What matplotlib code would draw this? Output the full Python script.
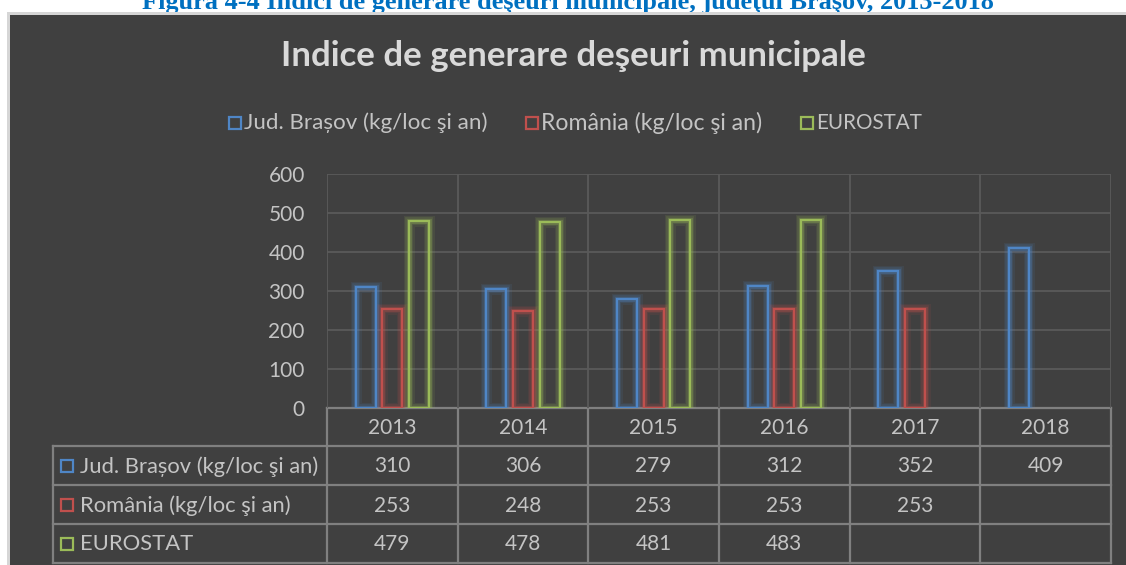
import matplotlib
matplotlib.use('Agg')
import matplotlib.pyplot as plt
import numpy as np
from matplotlib.patches import Rectangle

# ---------------- data ----------------
years = ['2013', '2014', '2015', '2016', '2017', '2018']
brasov = [310, 306, 279, 312, 352, 409]
romania = [253, 248, 253, 253, 253, None]
eurostat = [479, 478, 481, 483, None, None]
series_names = ['Jud. Brașov (kg/loc şi an)', 'România (kg/loc şi an)', 'EUROSTAT']
title = 'Indice de generare deşeuri municipale'
caption = 'Figura 4-4 Indici de generare deşeuri municipale, judeţul Braşov, 2013-2018'
y_ticks = [0, 100, 200, 300, 400, 500, 600]

# ---------------- style ----------------
colors = ['#4f86c6', '#c0504d', '#9bbb59']
BG = '#404040'
TXT = '#c4c4c4'
GRID = '#5a5a5a'
TLINE = '#808080'
FONT = ['Lato', 'DejaVu Sans']
plt.rcParams['font.family'] = FONT

W, H = 1126, 565
fig = plt.figure(figsize=(W / 100, H / 100), dpi=100)
fig.patch.set_facecolor('white')
bg = fig.add_axes([0, 0, 1, 1])
bg.set_xlim(0, W)
bg.set_ylim(H, 0)
bg.axis('off')

renderer = fig.canvas.get_renderer()


def fit(t, target_w):
    bb = t.get_window_extent(renderer)
    t.set_fontsize(t.get_fontsize() * target_w / bb.width)
    return t


# caption (partially cut off at top, as in the reference)
cap = bg.text(568, 9, caption, ha='center', va='baseline', color='#0070c0',
              family=['Liberation Serif'], weight='bold', fontsize=16)
fit(cap, 853)
bg.add_patch(Rectangle((7, 12), W, H, color='#d6d6d6', lw=0, zorder=3))
bg.add_patch(Rectangle((10, 15), W, H, color=BG, lw=0, zorder=3))

# title
tt = bg.text(573, 66, title, ha='center', va='baseline', color='#d9d9d9',
             weight='bold', fontsize=20, zorder=5)
fit(tt, 586)

# top legend
leg_sq = [229, 526, 801]
leg_end = [486, 761, 922]
for i, name in enumerate(series_names):
    x0 = leg_sq[i]
    bg.add_patch(Rectangle((x0, 117), 12, 12, fill=False, ec=colors[i], lw=1.6, zorder=5))
    t = bg.text(x0 + 15, 123, name, ha='left', va='center', color=TXT, fontsize=13, zorder=5)
    fit(t, leg_end[i] - (x0 + 15))

# ---------------- plot axes ----------------
L, R, T, B = 327, 1111, 174, 408
ax = fig.add_axes([L / W, 1 - B / H, (R - L) / W, (B - T) / H])
ax.set_facecolor('none')
ax.set_zorder(4)
ax.set_xlim(-0.5, len(years) - 0.5)
ax.set_ylim(0, 600)
ax.set_yticks(y_ticks)
ax.set_yticklabels([str(v) for v in y_ticks], color=TXT, fontsize=15)
ax.tick_params(axis='y', length=0, pad=16)
ax.set_xticks([])
for v in y_ticks[1:]:
    ax.axhline(v, color=GRID, lw=1.3, zorder=1)
for k in range(len(years) + 1):
    ax.axvline(k - 0.5, color=GRID, lw=1.3, zorder=1)
for s in ax.spines.values():
    s.set_visible(False)

x = np.arange(len(years))
bw = 0.153
offs = [-0.203, 0.0, 0.203]
for i, vals in enumerate([brasov, romania, eurostat]):
    v = np.array([np.nan if a is None else a for a in vals], dtype=float)
    for lw, al in [(8, 0.10), (5.5, 0.16), (3.5, 0.28)]:
        ax.bar(x + offs[i], v, bw, fill=False, ec=colors[i], lw=lw, alpha=al, zorder=2)
    ax.bar(x + offs[i], v, bw, fill=False, ec=colors[i], lw=1.6, zorder=3)

# ---------------- data table ----------------
colw = (R - L) / len(years)
rows_y = [408, 446, 485, 524, 563]
LC = 53
bg.plot([L, R], [rows_y[0], rows_y[0]], color=TLINE, lw=1.6, zorder=5)
for yy in rows_y[1:]:
    bg.plot([LC, R], [yy, yy], color=TLINE, lw=1.6, zorder=5)
bg.plot([LC, LC], [rows_y[1], rows_y[-1]], color=TLINE, lw=1.6, zorder=5)
for k in range(len(years) + 1):
    bg.plot([L + k * colw] * 2, [rows_y[0], rows_y[-1]], color=TLINE, lw=1.6, zorder=5)

for k, yr in enumerate(years):
    cx = L + (k + 0.5) * colw
    bg.text(cx, (rows_y[0] + rows_y[1]) / 2 + 1, yr, ha='center', va='center',
            color=TXT, fontsize=15, zorder=6)
row_fs = 14
for r, (name, vals) in enumerate(zip(series_names, [brasov, romania, eurostat])):
    cy = (rows_y[r + 1] + rows_y[r + 2]) / 2
    bg.add_patch(Rectangle((61, cy - 6), 12, 12, fill=False, ec=colors[r], lw=1.6, zorder=6))
    t = bg.text(80, cy + 1, name, ha='left', va='center', color=TXT, fontsize=14, zorder=6)
    if r == 0:
        fit(t, 320 - 80)
        row_fs = t.get_fontsize()
    else:
        t.set_fontsize(row_fs)
    for k, v in enumerate(vals):
        if v is None:
            continue
        cx = L + (k + 0.5) * colw
        bg.text(cx, cy + 1, str(v), ha='center', va='center', color=TXT, fontsize=15, zorder=6)

fig.savefig('out.png', dpi=100, facecolor='white')
